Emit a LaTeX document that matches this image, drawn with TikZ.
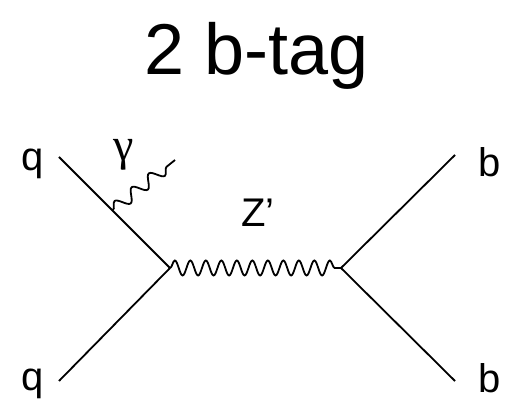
\documentclass[tikz,border=0pt]{standalone}
\usepackage{fontspec}
\setmainfont{Liberation Sans}
\newfontfamily\greekfont{Liberation Serif}
\usetikzlibrary{decorations.pathmorphing}
\begin{document}
\begin{tikzpicture}[x=1pt,y=-1pt,
  fermion/.style={line width=1.8pt},
  boson/.style={line width=1.8pt,decorate,decoration={snake,segment length=15.5pt,amplitude=7.5pt}},
  photon/.style={line width=1.8pt,decorate,decoration={snake,segment length=22pt,amplitude=6pt}},
  lbl/.style={font=\fontsize{40}{40}\selectfont,anchor=base,inner sep=0pt},
  ttl/.style={font=\fontsize{72}{72}\selectfont,anchor=base,inner sep=0pt}]
\useasboundingbox (0,0) rectangle (506,411);
\node[ttl] (title) at (257,75) {2 b-tag};
\coordinate (q1) at (59,157);
\coordinate (q2) at (59,381);
\coordinate (v1) at (170,268);
\coordinate (v2) at (341,268);
\coordinate (b1) at (455,155);
\coordinate (b2) at (455,381);
\coordinate (ge) at (175,160);
\coordinate (gs) at (113,210);
\draw[fermion] (q1) -- (v1);
\draw[fermion] (q2) -- (v1);
\draw[fermion] (b1) -- (v2);
\draw[fermion] (b2) -- (v2);
\draw[boson] (v1) -- (v2);
\draw[photon] (gs) -- (ge);
\node[lbl] (lq1) at (33,171) {q};
\node[lbl] (lq2) at (33,391) {q};
\node[lbl] (lb1) at (490,177) {b};
\node[lbl] (lb2) at (490,392) {b};
\node[lbl] (lz) at (258,227) {Z’};
\node[lbl,font=\fontsize{46}{46}\greekfont] (lg) at (124,161) {γ};
\end{tikzpicture}
\end{document}
